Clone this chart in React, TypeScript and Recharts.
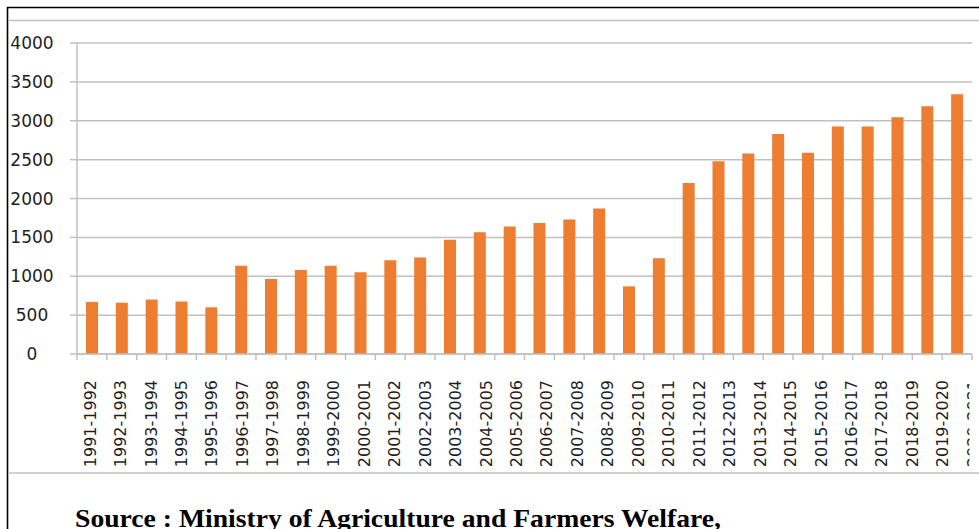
import React from "react";
import { BarChart, Bar, XAxis, YAxis, CartesianGrid } from "recharts";

const categories = [
  "1991-1992", "1992-1993", "1993-1994", "1994-1995", "1995-1996",
  "1996-1997", "1997-1998", "1998-1999", "1999-2000", "2000-2001",
  "2001-2002", "2002-2003", "2003-2004", "2004-2005", "2005-2006",
  "2006-2007", "2007-2008", "2008-2009", "2009-2010", "2010-2011",
  "2011-2012", "2012-2013", "2013-2014", "2014-2015", "2015-2016",
  "2016-2017", "2017-2018", "2018-2019", "2019-2020", "2020-2021",
];

const values = [
  670, 660, 700, 675, 600,
  1135, 965, 1080, 1135, 1050,
  1205, 1240, 1470, 1565, 1640,
  1685, 1730, 1870, 870, 1230,
  2200, 2480, 2580, 2830, 2590,
  2925, 2925, 3045, 3185, 3340,
];

const yTicks = [0, 500, 1000, 1500, 2000, 2500, 3000, 3500, 4000];

const sourceText = "Source : Ministry of Agriculture and Farmers Welfare,";

const data = categories.map((c, i) => ({ name: c, value: values[i] }));

const W = 979;
const H = 529;
const M_TOP = 43;
const M_RIGHT = 7;
const Y_AXIS_W = 77;
const X_AXIS_H = 175;
const PLOT_W = W - M_RIGHT - Y_AXIS_W;
const BAND = PLOT_W / categories.length;
const GRID = "#c0c0c0";
const FONT = "'DejaVu Sans', sans-serif";

const XTick = (props: any) => {
  const { x, y, payload, index } = props;
  const last = index === categories.length - 1;
  const lx = x - 2 + index * 0.62;
  return (
    <g>
      {index === 0 && (
        <defs>
          <clipPath id="xlabclip">
            <rect x={0} y={0} width={969.5} height={H} />
          </clipPath>
        </defs>
      )}
      <line x1={x - BAND / 2} x2={x - BAND / 2} y1={y} y2={y + 6} stroke={GRID} strokeWidth={1.5} />
      {last && (
        <line x1={x + BAND / 2} x2={x + BAND / 2} y1={y} y2={y + 6} stroke={GRID} strokeWidth={1.5} />
      )}
      <g clipPath="url(#xlabclip)">
        <text
          transform={`translate(${lx},${y + 26}) rotate(-90)`}
          textAnchor="end"
          dy="0.36em"
          fontFamily={FONT}
          fontSize={16}
          fill="#1e1e1e"
        >
          {payload.value}
        </text>
      </g>
    </g>
  );
};

const YTick = (props: any) => {
  const { y, payload } = props;
  return (
    <text x={32} y={y} dy="0.36em" textAnchor="middle" fontFamily={FONT} fontSize={17} fill="#1e1e1e">
      {payload.value}
    </text>
  );
};

export default function App() {
  return (
    <div style={{ position: "absolute", left: 0, top: 0, width: W, height: H, overflow: "hidden", background: "#fff" }}>
      <div style={{ position: "absolute", left: 0, top: 0 }}>
        <BarChart width={W} height={H} data={data} margin={{ top: M_TOP, right: M_RIGHT, left: 0, bottom: 0 }}>
          <CartesianGrid vertical={false} stroke={GRID} strokeWidth={1.5} />
          <XAxis
            dataKey="name"
            interval={0}
            height={X_AXIS_H}
            tickLine={false}
            tickSize={0}
            tickMargin={0}
            axisLine={{ stroke: GRID, strokeWidth: 1.5 }}
            tick={<XTick />}
          />
          <YAxis
            width={Y_AXIS_W}
            domain={[0, 4000]}
            ticks={yTicks}
            interval={0}
            tickSize={7}
            tickLine={{ stroke: GRID, strokeWidth: 1.5 }}
            axisLine={{ stroke: GRID, strokeWidth: 1.5 }}
            tick={<YTick />}
          />
          <Bar dataKey="value" fill="#ED7D31" barSize={12} isAnimationActive={false} />
        </BarChart>
      </div>
      <svg width={W} height={H} style={{ position: "absolute", left: 0, top: 0, pointerEvents: "none" }}>
        <line x1={7.5} x2={7.5} y1={7} y2={H} stroke="#000" strokeWidth={1.6} />
        <line x1={7} x2={W} y1={7.5} y2={7.5} stroke="#000" strokeWidth={1.6} />
        <line x1={8} x2={W} y1={20.5} y2={20.5} stroke={GRID} strokeWidth={1.5} />
        <line x1={8} x2={W} y1={473} y2={473} stroke={GRID} strokeWidth={1.5} />
        <text
          x={75}
          y={527}
          fontFamily="'Liberation Serif', 'Times New Roman', serif"
          fontWeight="bold"
          fontSize={25}
          textLength={646}
          lengthAdjust="spacingAndGlyphs"
          fill="#000"
        >
          {sourceText}
        </text>
      </svg>
    </div>
  );
}
